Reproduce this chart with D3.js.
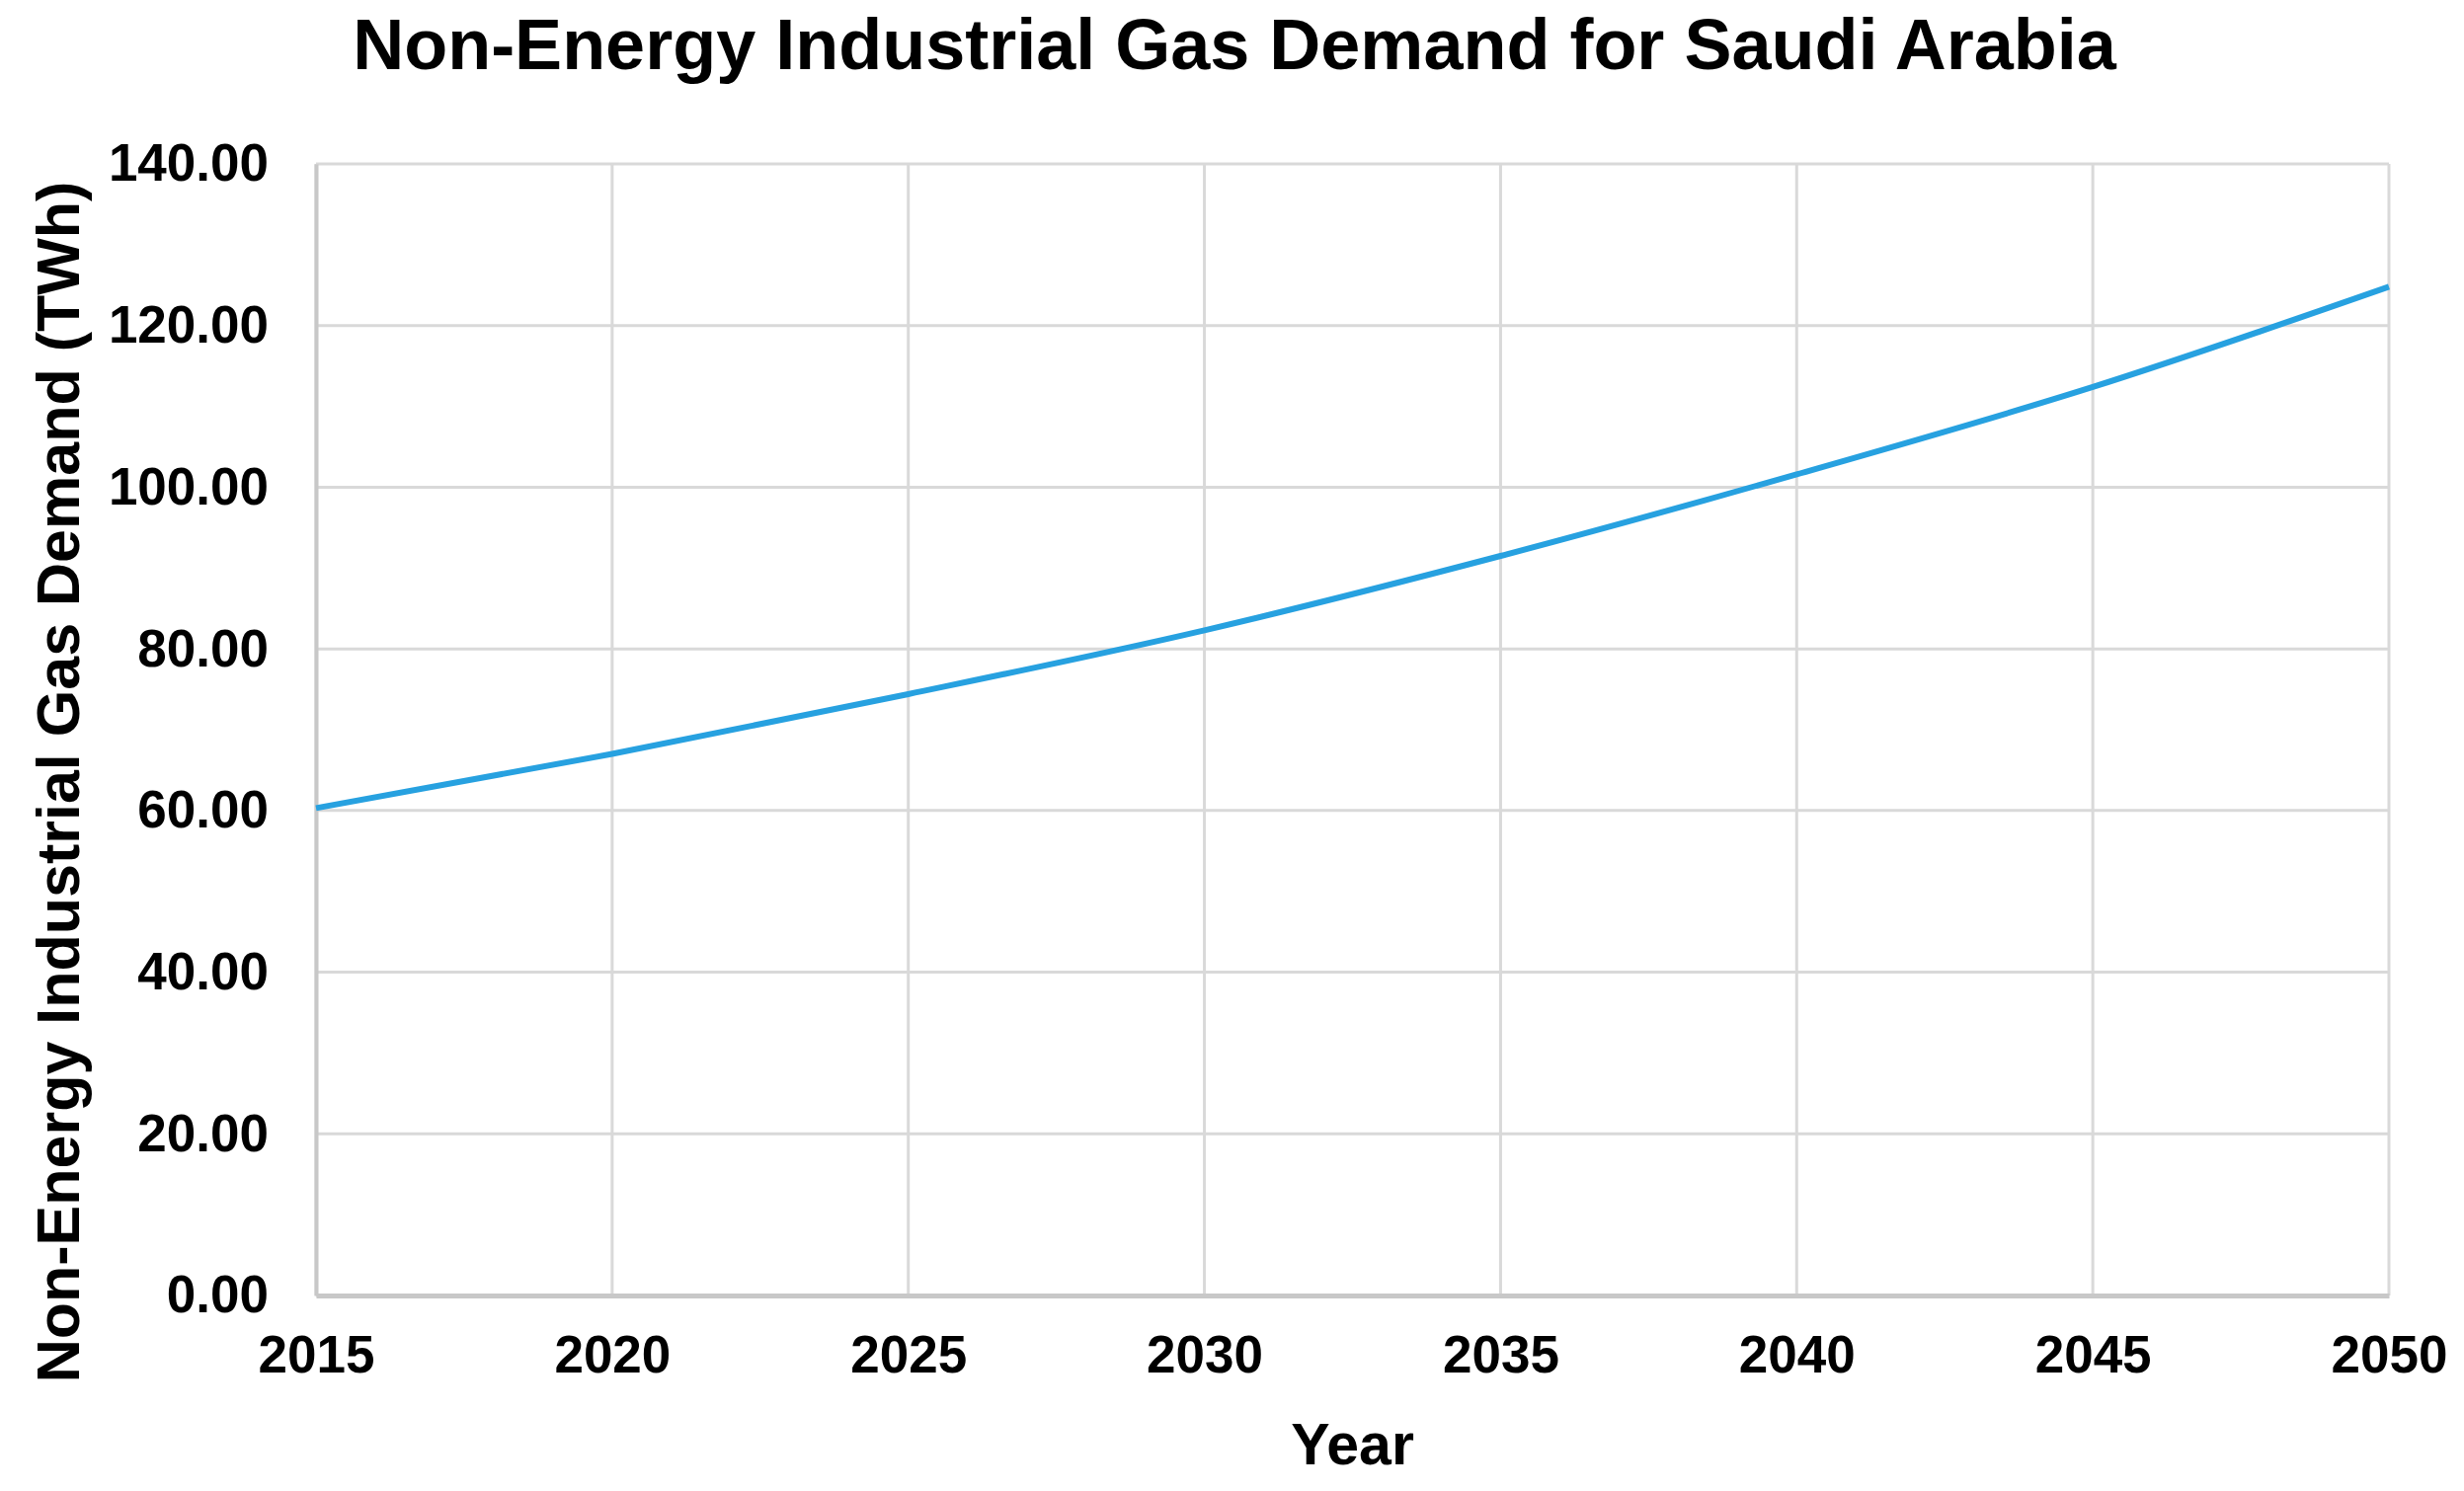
<!DOCTYPE html>
<html>
<head>
<meta charset="utf-8">
<script src="https://cdn.jsdelivr.net/npm/d3@7"></script>
<style>
	body { margin: 0; background: #fff; }
	text { font-family: 'Liberation Sans', Arial, sans-serif; font-weight: bold; fill: #000; }
</style>
</head>
<body>
<svg id="chart"></svg>
<script>

var years = [2015, 2020, 2025, 2030, 2035, 2040, 2045, 2050]
var demand = [60.3, 67.0, 74.4, 82.3, 91.5, 101.6, 112.4, 124.8]
var yTicks = [0, 20, 40, 60, 80, 100, 120, 140]

var w = 2495
var h = 1510
var m = {top: 166, right: 76, bottom: 198, left: 320}

var svg = d3.select('#chart')
	.attr('width', w)
	.attr('height', h)

var x = d3.scaleLinear()
	.domain([2015, 2050])
	.range([m.left, w - m.right])

var y = d3.scaleLinear()
	.domain([0, 140])
	.range([h - m.bottom, m.top])

// grid
svg.append('g')
	.selectAll('line')
	.data(yTicks)
	.enter().append('line')
	.attr('x1', m.left)
	.attr('x2', w - m.right)
	.attr('y1', d => y(d))
	.attr('y2', d => y(d))
	.attr('stroke', '#d9d9d9')
	.attr('stroke-width', 3)

svg.append('g')
	.selectAll('line')
	.data(years)
	.enter().append('line')
	.attr('x1', d => x(d))
	.attr('x2', d => x(d))
	.attr('y1', m.top)
	.attr('y2', h - m.bottom)
	.attr('stroke', '#d9d9d9')
	.attr('stroke-width', 3)

// axes
var xAxis = svg.append('g')
	.attr('transform', 'translate(0,' + (h - m.bottom) + ')')
	.call(d3.axisBottom(x).tickValues(years).tickFormat(d3.format('d')).tickSize(0).tickPadding(40))

var yAxis = svg.append('g')
	.attr('transform', 'translate(' + m.left + ',0)')
	.call(d3.axisLeft(y).tickValues(yTicks).tickFormat(d3.format('.2f')).tickSize(0).tickPadding(48))

xAxis.select('.domain').attr('stroke', '#c8c8c8').attr('stroke-width', 5)
yAxis.select('.domain').attr('stroke', '#c8c8c8').attr('stroke-width', 4)

svg.selectAll('.tick text')
	.style('font-family', "'Liberation Sans', Arial, sans-serif")
	.style('font-weight', 'bold')
	.attr('font-size', 53)
	.attr('fill', '#000')

xAxis.selectAll('.tick text').attr('dy', '0.71em')

// line
var line = d3.line()
	.x((d, i) => x(years[i]))
	.y(d => y(d))
	.curve(d3.curveMonotoneX)

svg.append('path')
	.datum(demand)
	.attr('d', line)
	.attr('fill', 'none')
	.attr('stroke', '#27a1e0')
	.attr('stroke-width', 6)

// titles
svg.append('text')
	.attr('x', 1250)
	.attr('y', 70)
	.attr('font-size', 72)
	.style('text-anchor', 'middle')
	.text('Non-Energy Industrial Gas Demand for Saudi Arabia')

svg.append('text')
	.attr('x', (m.left + w - m.right) / 2)
	.attr('y', 1483)
	.attr('font-size', 59)
	.style('text-anchor', 'middle')
	.text('Year')

svg.append('text')
	.attr('transform', 'translate(80,792) rotate(-90)')
	.attr('font-size', 61)
	.style('text-anchor', 'middle')
	.text('Non-Energy Industrial Gas Demand (TWh)')

</script>
</body>
</html>
